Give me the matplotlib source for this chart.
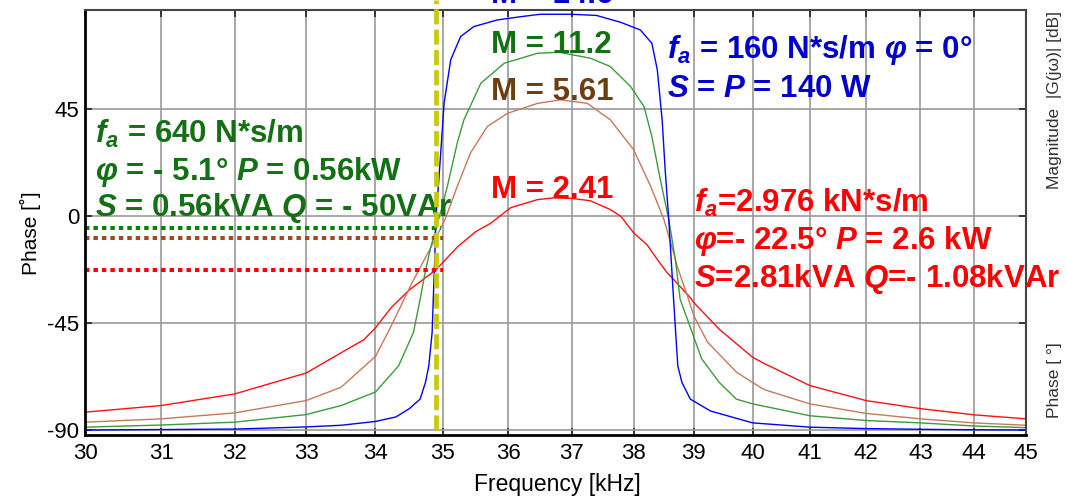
import matplotlib
matplotlib.use("Agg")
import matplotlib.pyplot as plt
from matplotlib.ticker import NullLocator, NullFormatter, FixedLocator, FixedFormatter

plt.rcParams['font.family'] = ['Liberation Sans', 'DejaVu Sans']
plt.rcParams['mathtext.fontset'] = 'custom'
plt.rcParams['mathtext.it'] = 'Liberation Sans:bold:italic'
plt.rcParams['mathtext.rm'] = 'Liberation Sans:bold'
plt.rcParams['mathtext.bf'] = 'Liberation Sans:bold'
plt.rcParams['mathtext.sf'] = 'Liberation Sans:bold'

# ---- data: frequency [kHz] and phase [deg] of the four responses ----
f_blue = [30, 31, 32, 33, 33.5, 34, 34.3, 34.5, 34.66, 34.74, 34.79, 34.84, 34.875,
          34.9, 34.94, 34.97, 35.02, 35.12, 35.27, 35.47, 35.83, 36.2, 36.5, 37.0,
          37.4, 37.79, 38.11, 38.3, 38.39, 38.47, 38.52, 38.58, 38.63, 38.66, 38.73,
          38.8, 38.94, 39.28, 40.0, 41, 42, 43, 44, 45]
ph_blue = [-90, -89.8, -89.6, -88.7, -88.0, -86.4, -84.5, -81.0, -77.0, -70.0, -63.0,
           -49.0, -21.0, 0.0, 15.0, 27.0, 47.5, 65.8, 75.6, 79.8, 82.6, 84.0, 85.0,
           85.0, 84.5, 81.6, 78.4, 72.8, 61.6, 40.6, 19.6, -1.4, -22.4, -35.0, -63.0,
           -70.0, -77.0, -82.0, -87.0, -88.8, -89.4, -89.7, -89.9, -90.0]

f_green = [30, 31, 32, 33, 33.5, 34, 34.34, 34.56, 34.66, 34.74, 34.82, 34.9, 35.0,
           35.07, 35.22, 35.32, 35.58, 35.94, 36.46, 36.8, 37.3, 37.62, 37.95, 38.17,
           38.3, 38.44, 38.58, 38.69, 38.77, 38.9, 39.13, 39.43, 39.72, 40.0, 40.2,
           41, 42, 43, 44, 45]
ph_green = [-88.8, -87.9, -86.7, -83.5, -79.7, -74.0, -63.0, -49.0, -35.0, -23.0,
            -13.0, -5.1, 5.0, 12.6, 30.9, 40.5, 56.0, 64.4, 68.6, 69.0, 66.5, 63.0,
            54.6, 46.2, 33.6, 15.4, -1.4, -18.2, -35.0, -44.0, -60.0, -70.0, -77.0,
            -79.0, -80.0, -84.0, -86.0, -87.0, -88.3, -89.0]

f_brown = [30, 31, 32, 33, 33.5, 34, 34.2, 34.37, 34.54, 34.72, 34.9, 35.04, 35.22,
           35.42, 35.68, 35.99, 36.46, 36.82, 37.25, 37.62, 38.0, 38.28, 38.5, 38.66,
           38.72, 38.89, 39.0, 39.23, 39.72, 40.0, 40.2, 41, 42, 43, 44, 45]
ph_brown = [-86.7, -85.3, -82.8, -77.6, -72.0, -59.0, -48.0, -38.0, -28.0, -18.5,
            -9.0, -1.0, 12.6, 26.6, 37.8, 43.3, 47.5, 49.0, 47.5, 40.6, 28.0, 12.6,
            -1.4, -15.4, -21.0, -33.5, -42.0, -53.0, -65.6, -70.0, -73.0, -79.0,
            -83.0, -85.3, -87.0, -88.0]

f_red = [30, 31, 32, 33, 33.5, 33.83, 34.0, 34.23, 34.5, 34.9, 35.22, 35.5, 35.73,
         36.04, 36.46, 36.71, 37.0, 37.3, 37.62, 37.79, 38.0, 38.22, 38.39, 38.55,
         38.66, 38.94, 39.0, 39.43, 40.0, 40.2, 41, 42, 43, 44, 45]
ph_red = [-82.5, -79.7, -74.8, -66.0, -57.5, -52.0, -47.0, -38.5, -31.0, -22.5,
          -13.0, -6.5, -3.0, 3.6, 7.0, 7.7, 7.5, 6.5, 2.8, 0.0, -7.0, -12.0, -18.2,
          -23.7, -26.6, -34.3, -36.4, -47.6, -59.4, -62.0, -71.3, -77.6, -81.0,
          -83.6, -85.3]

# operating frequency and the phase levels read at it
f_op = 34.9
phi_green = -5.1
phi_brown = -9.0
phi_red = -22.5

x_ticks = [30, 31, 32, 33, 34, 35, 36, 37, 38, 39, 40, 41, 42, 43, 44, 45]
y_ticks = [-90, -45, 0, 45]

# ---- figure ----
fig = plt.figure(figsize=(10.67, 4.97), dpi=100)
ax = fig.add_axes([85 / 1067, 1 - 435 / 497, (1026 - 85) / 1067, (435 - 10) / 497])
ax.set_xscale('log')
ax.set_xlim(30, 45)
ax.set_ylim(-92.1, 86.8)

ax.xaxis.set_major_locator(FixedLocator(x_ticks))
ax.xaxis.set_major_formatter(FixedFormatter([str(t) for t in x_ticks]))
ax.xaxis.set_minor_locator(NullLocator())
ax.xaxis.set_minor_formatter(NullFormatter())
ax.set_yticks(y_ticks)
ax.set_yticklabels([str(t) for t in y_ticks])

ax.grid(True, color='#9a9a9a', lw=1.2)
ax.set_axisbelow(True)
ax.tick_params(direction='in', length=5, width=1.2, top=True, right=True,
               labelsize=16, color='#222222')
ax.tick_params(axis='x', pad=6)
ax.tick_params(axis='y', pad=4)
for side in ('left', 'bottom'):
    ax.spines[side].set_linewidth(2.0)
    ax.spines[side].set_color('black')
for side in ('top', 'right'):
    ax.spines[side].set_linewidth(1.5)
    ax.spines[side].set_color('#444444')

# response curves
ax.plot(f_red, ph_red, color='#ff1010', lw=1.0)
ax.plot(f_brown, ph_brown, color='#c47a5a', lw=1.0)
ax.plot(f_green, ph_green, color='#3c9b3c', lw=1.0)
ax.plot(f_blue, ph_blue, color='#0000ff', lw=1.0)

# phase levels at the operating point
dot = (0, (1.1, 1.0))
ax.plot([30, 34.97], [phi_green, phi_green], color='#0a800a', lw=2.9, ls=dot,
        dash_capstyle='butt')
ax.plot([30, 35.0], [phi_brown, phi_brown], color='#a6481a', lw=2.9, ls=dot,
        dash_capstyle='butt')
ax.plot([30, 35.0], [phi_red, phi_red], color='#ff0000', lw=2.9, ls=dot,
        dash_capstyle='butt')

# operating frequency marker
ax.plot([f_op, f_op], [-90, 91], color='#c9c90a', lw=3.4, ls=(0, (3.2, 1.1)),
        clip_on=False, zorder=5)

# annotations
big = dict(fontsize=22.5, fontweight='bold', va='baseline', ha='left', clip_on=False)
ax.text(35.73, 89.7, 'M = 14.6', color='#0000cc', **big)
ax.text(35.73, 68.7, 'M = 11.2', color='#147014', **big)
ax.text(35.73, 49.0, 'M = 5.61', color='#6b3d0f', **big)
ax.text(35.73, 7.85, 'M = 2.41', color='#ff0000', **big)

ax.text(30.13, 30.9, r'$f_a$ = 640 N*s/m', color='#147014', **big)
ax.text(30.13, 15.4, r'$\varphi$ = - 5.1° $P$ = 0.56kW', color='#147014', **big)
ax.text(30.13, 0.0, r'$S$ = 0.56kVA $Q$ = - 50VAr', color='#147014', **big)

ax.text(38.55, 66.6, r'$f_a$ = 160 N*s/m $\varphi$ = 0°', color='#0000cc', **big)
ax.text(38.55, 50.2, r'$S$ = $P$ = 140 W', color='#0000cc', **big)

ax.text(39.0, 2.0, r'$f_a$=2.976 kN*s/m', color='#ff0000', **big)
ax.text(39.0, -14.0, r'$\varphi$=- 22.5° $P$ = 2.6 kW', color='#ff0000', **big)
ax.text(39.0, -29.9, r'$S$=2.81kVA $Q$=- 1.08kVAr', color='#ff0000', **big)

# axis titles
fig.text(557 / 1067, 1 - 484 / 497, 'Frequency [kHz]', fontsize=16.5,
         ha='center', va='center')
fig.text(30 / 1067, 1 - 233 / 497, 'Phase [˚]', fontsize=15, rotation=90,
         ha='center', va='center')
fig.text(1055 / 1067, 1 - 100 / 497, 'Magnitude  |G(jω)| [dB]', fontsize=12.5,
         rotation=90, ha='center', va='center', color='#333333')
fig.text(1055 / 1067, 1 - 380 / 497, 'Phase [ °]', fontsize=12.5,
         rotation=90, ha='center', va='center', color='#333333')

fig.savefig('out.png', dpi=100)
